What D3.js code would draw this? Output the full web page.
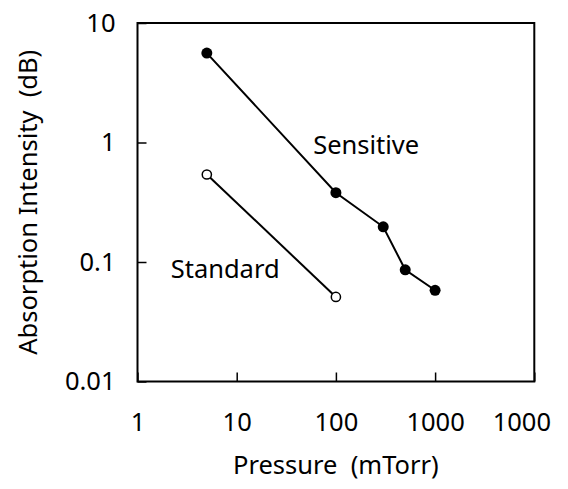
<!DOCTYPE html>
<html>
<head>
<meta charset="utf-8">
<script src="https://cdn.jsdelivr.net/npm/d3@7"></script>
<style>
  html, body { margin: 0; padding: 0; background: #fff; }
  svg { display: block; }
  text { font-family: "Noto Sans", sans-serif; fill: #000; }
</style>
</head>
<body>
<svg id="chart" width="568" height="489"></svg>
<script>
// ---- data ----
const xTickValues = [1, 10, 100, 1000, 10000];
const xTickLabels = ["1", "10", "100", "1000", "1000"];
const yTickValues = [0.01, 0.1, 1, 10];
const yTickLabels = ["0.01", "0.1", "1", "10"];

const sensitiveX = [5, 100, 300, 500, 1000];
const sensitiveY = [5.6, 0.38, 0.197, 0.086, 0.058];
const standardX = [5, 100];
const standardY = [0.54, 0.051];

const seriesNames = ["Sensitive", "Standard"];
const labelX = [59, 2.16];
const labelY = [0.80, 0.0734];

const xTitle = "Pressure  (mTorr)";
const yTitle = "Absorption Intensity  (dB)";

// ---- layout ----
const W = 568, H = 489;
const m = { left: 137.5, right: 568 - 534.3, top: 23, bottom: 489 - 381.5 };
const svg = d3.select("#chart");

const x = d3.scaleLog().domain([1, 10000]).range([m.left, W - m.right]);
const y = d3.scaleLog().domain([0.01, 10]).range([H - m.bottom, m.top]);

const fs = 25.5;

// x axis
const xAxis = d3.axisBottom(x)
  .tickValues(xTickValues)
  .tickFormat((d, i) => xTickLabels[i])
  .tickSizeInner(-9).tickSizeOuter(0).tickPadding(31);
const gx = svg.append("g").attr("transform", `translate(0,${H - m.bottom})`).call(xAxis);
gx.select(".domain").remove();
gx.selectAll(".tick line").attr("stroke", "#000").attr("stroke-width", 1.5);
gx.selectAll(".tick text").style("font-size", fs + "px").attr("font-family", null)
  .attr("dy", "0.71em")
  .attr("dx", (d, i) => i === xTickValues.length - 1 ? -13 : 0);

// y axis
const yAxis = d3.axisLeft(y)
  .tickValues(yTickValues)
  .tickFormat((d, i) => yTickLabels[i])
  .tickSizeInner(-9).tickSizeOuter(0).tickPadding(22);
const gy = svg.append("g").attr("transform", `translate(${m.left},0)`).call(yAxis);
gy.select(".domain").remove();
gy.selectAll(".tick line").attr("stroke", "#000").attr("stroke-width", 1.5);
gy.selectAll(".tick text").style("font-size", fs + "px").attr("font-family", null);

// frame
svg.append("rect")
  .attr("x", m.left).attr("y", m.top)
  .attr("width", W - m.left - m.right).attr("height", H - m.top - m.bottom)
  .attr("fill", "none").attr("stroke", "#000").attr("stroke-width", 2);

// lines
const line = d3.line().x(d => x(d[0])).y(d => y(d[1]));
const sens = sensitiveX.map((v, i) => [v, sensitiveY[i]]);
const std = standardX.map((v, i) => [v, standardY[i]]);

svg.append("path").datum(sens).attr("d", line)
  .attr("fill", "none").attr("stroke", "#000").attr("stroke-width", 2);
svg.append("path").datum(std).attr("d", line)
  .attr("fill", "none").attr("stroke", "#000").attr("stroke-width", 2);

svg.selectAll(".sens").data(sens).enter().append("circle")
  .attr("cx", d => x(d[0])).attr("cy", d => y(d[1])).attr("r", 5.5)
  .attr("fill", "#000");
svg.selectAll(".std").data(std).enter().append("circle")
  .attr("cx", d => x(d[0])).attr("cy", d => y(d[1])).attr("r", 4.6)
  .attr("fill", "#fff").attr("stroke", "#000").attr("stroke-width", 1.5);

// series labels
seriesNames.forEach((n, i) => {
  svg.append("text").attr("x", x(labelX[i])).attr("y", y(labelY[i]))
    .style("font-size", fs + "px").text(n);
});

// titles
svg.append("text").attr("x", (m.left + W - m.right) / 2).attr("y", 474)
  .attr("text-anchor", "middle").style("font-size", fs + "px")
  .style("white-space", "pre").text(xTitle);
svg.append("text")
  .attr("transform", `translate(37,${(m.top + H - m.bottom) / 2}) rotate(-90)`)
  .attr("text-anchor", "middle").style("font-size", fs + "px")
  .style("white-space", "pre").text(yTitle);
</script>
</body>
</html>
